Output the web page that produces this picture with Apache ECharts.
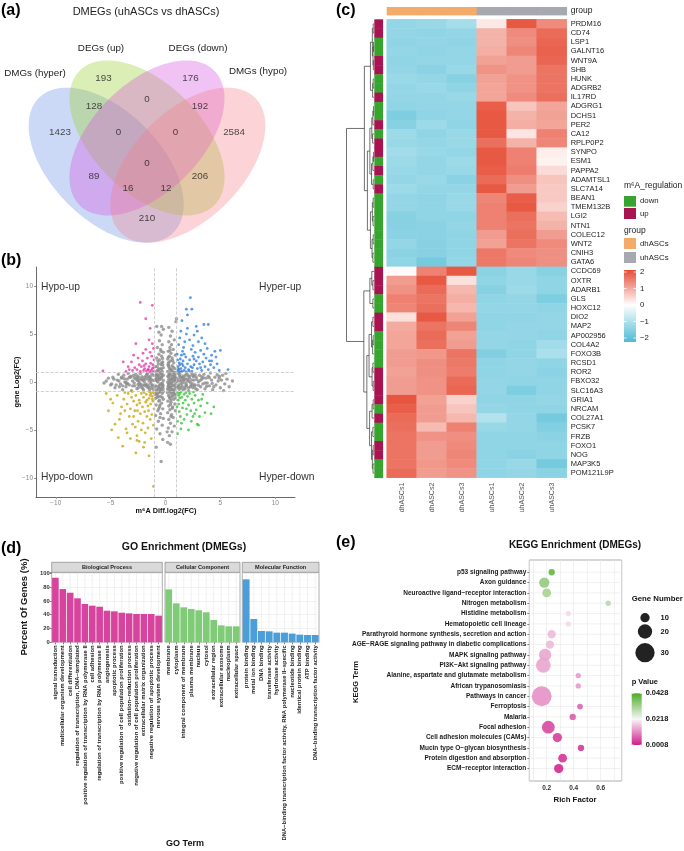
<!DOCTYPE html>
<html><head><meta charset="utf-8">
<script src="https://cdn.jsdelivr.net/npm/echarts@6/dist/echarts.min.js"></script>
<style>html,body{margin:0;padding:0;background:#fff}#c{width:684px;height:851px}</style>
</head><body><div id="c"></div>
<script>
// ================= DATA =================
// (a) Venn
const vennSetLabels = ['DMGs (hyper)', 'DEGs (up)', 'DEGs (down)', 'DMGs (hypo)'];
const vennCounts = [193, 176, 128, 0, 192, 1423, 0, 0, 2584, 0, 89, 206, 16, 12, 210];

// (b) scatter: [m6A diff log2FC, gene log2FC]
const scatterGray = [[0.2,-6.3],[0.35,-5.6],[0.6,-5.2],[0.25,-4.8],[0.8,-4.6],[0.45,-4.3],[0.3,-3.9],[0.7,-3.7],[0.55,-3.4],[0.2,-3.2],[0.9,-3.0],[0.4,-2.9],[0.65,-2.6],[0.3,-2.5],[0.85,-2.3],[0.5,-2.1],[0.22,-2.0],[0.75,-1.8],[0.4,-1.7],[0.6,-1.5],[0.28,-1.4],[0.95,-1.3],[0.5,-1.2],[0.18,-1.1],[0.7,-1.0],[0.35,-0.9],[0.6,-0.8],[0.85,-0.7],[0.25,-0.6],[0.45,-0.5],[0.7,-0.4],[0.3,-0.3],[0.9,-0.2],[0.55,-0.1],[0.2,0.0],[0.4,0.1],[0.75,0.2],[0.3,0.3],[0.6,0.4],[0.95,0.5],[0.22,0.6],[0.5,0.7],[0.8,0.8],[0.35,0.9],[0.65,1.0],[0.2,1.1],[0.45,1.3],[0.85,1.4],[0.3,1.6],[0.6,1.7],[0.25,1.9],[0.75,2.0],[0.45,2.2],[0.2,2.4],[0.6,2.5],[0.35,2.7],[0.9,2.8],[0.5,3.0],[0.25,3.2],[0.7,3.4],[0.4,3.6],[0.55,3.9],[0.3,4.2],[0.8,4.4],[0.45,4.8],[0.6,5.3],[0.95,6.3],[0.3,5.7],
[-0.25,-6.0],[-0.5,-5.4],[-0.8,-4.9],[-0.3,-4.5],[-0.65,-4.1],[-0.2,-3.8],[-0.9,-3.5],[-0.45,-3.3],[-0.7,-3.0],[-0.25,-2.8],[-0.55,-2.6],[-0.85,-2.4],[-0.35,-2.2],[-0.6,-2.0],[-0.2,-1.8],[-0.75,-1.6],[-0.45,-1.5],[-0.95,-1.3],[-0.3,-1.2],[-0.6,-1.1],[-0.2,-1.0],[-0.8,-0.9],[-0.4,-0.8],[-0.65,-0.6],[-0.25,-0.5],[-0.9,-0.4],[-0.5,-0.3],[-0.3,-0.1],[-0.7,0.0],[-0.2,0.15],[-0.55,0.25],[-0.85,0.35],[-0.35,0.45],[-0.6,0.6],[-0.2,0.7],[-0.8,0.8],[-0.45,0.9],[-0.3,1.1],[-0.7,1.2],[-0.5,1.4],[-0.2,1.5],[-0.9,1.6],[-0.4,1.8],[-0.65,1.9],[-0.25,2.1],[-0.55,2.3],[-0.8,2.5],[-0.35,2.7],[-0.6,2.9],[-0.2,3.1],[-0.45,3.4],[-0.75,3.6],[-0.3,3.9],[-0.55,4.3],[-0.4,4.9],[-0.2,5.5],[-0.8,5.8],[-0.6,5.2],[-0.36,5.8],[1.0,6.6],
[-0.4,-8.3],[-0.85,-6.8],[0.45,-6.5],[0.15,-5.2],
[1.1,0.3],[1.2,-0.5],[1.3,0.8],[1.4,-0.2],[1.5,0.5],[1.6,-0.8],[1.7,0.1],[1.8,0.7],[1.9,-0.4],[2.0,0.3],[2.1,-0.9],[2.2,0.6],[2.3,-0.1],[2.4,0.9],[2.5,-0.6],[2.6,0.2],[2.7,-0.3],[2.8,0.5],[2.9,-0.8],[3.0,0.0],[3.1,0.7],[3.2,-0.5],[3.3,0.3],[3.4,-0.2],[3.5,0.8],[3.6,-0.7],[3.7,0.4],[3.8,-0.1],[3.9,0.6],[4.0,-0.4],[4.2,0.2],[4.3,-0.8],[4.5,0.5],[4.6,-0.3],[4.8,0.1],[5.0,-0.6],[5.2,0.7],[5.4,-0.2],[5.6,0.3],[5.8,-0.5],[5.5,0.9],[5.3,-0.9],[4.1,0.95],[2.15,0.05],[1.55,-0.1],[1.35,0.45],[1.75,-0.55],[1.95,0.85],[2.35,-0.35],[2.55,0.55],[1.25,-0.75],[1.65,0.25],[1.85,-0.15],[2.05,0.65],[2.75,-0.7],[3.15,0.15],[1.15,0.9],[1.45,0.15],[4.9,0.4],[6.1,0.1],
[-1.1,0.7],[-1.2,-0.4],[-1.3,0.3],[-1.4,0.6],[-1.5,0.1],[-1.6,-0.6],[-1.7,0.8],[-1.8,-0.2],[-1.9,0.5],[-2.0,-0.8],[-2.1,0.2],[-2.2,-0.5],[-2.3,0.9],[-2.4,-0.1],[-2.5,0.6],[-2.6,-0.7],[-2.7,0.3],[-2.8,-0.4],[-2.9,0.7],[-3.0,0.1],[-3.1,-0.9],[-3.2,0.5],[-3.3,-0.3],[-3.4,0.9],[-3.5,0.3],[-3.6,-0.5],[-3.7,0.0],[-3.8,0.7],[-3.9,-0.8],[-4.0,0.4],[-4.1,-0.2],[-4.3,0.8],[-4.4,0.2],[-4.6,-0.6],[-4.8,0.5],[-5.0,-0.3],[-5.4,0.1],[-2.85,-0.1],[-2.55,0.15],[-2.35,-0.35],[-2.15,0.55],[-1.95,0.05],[-1.75,-0.45],[-1.55,0.35],[-1.35,-0.15],[-1.25,0.85],[-1.45,-0.8],[-1.65,0.9],[-2.05,-0.3],[-2.45,0.4],[-3.15,0.6],[-3.55,-0.2],[-4.2,-0.5],[-5.2,0.4],[-5.6,-0.1],[-4.7,0.3],
[0.3,0.55],[0.5,-0.65],[0.7,0.05],[0.9,-0.45],[0.35,-1.55],[0.6,1.25],[0.8,-1.25],[0.25,1.75],[0.45,-2.35],[0.65,2.25],[0.85,0.65],[0.4,-0.15],[0.55,0.35],[0.75,-0.85],[0.2,-0.75],[0.95,0.15],[0.3,2.05],[0.5,-1.85],[0.7,1.55],[0.9,-1.65],
[-0.35,0.6],[-0.55,-0.7],[-0.75,0.1],[-0.95,-0.5],[-0.3,-1.6],[-0.65,1.3],[-0.85,-1.2],[-0.25,1.8],[-0.5,-2.4],[-0.7,2.2],[-0.9,0.7],[-0.45,-0.2],[-0.6,0.4],[-0.8,-0.8],[-0.22,-0.7],[-0.95,0.2],[-0.35,2.0],[-0.55,-1.9],[-0.75,1.6],[-0.9,-1.7],
[1.3,0.1],[1.6,0.6],[1.9,-0.3],[2.2,0.4],[2.5,-0.2],[1.2,-0.3],[1.5,-0.45],[1.8,0.35],[2.1,-0.6],[2.4,0.2],[2.7,0.75],[3.0,-0.35],[3.3,0.55],[3.6,-0.1],[4.0,0.45],[4.4,-0.5],[4.9,0.6],
[-1.3,0.1],[-1.6,0.55],[-1.9,-0.35],[-2.2,0.35],[-2.5,-0.25],[-1.2,-0.3],[-1.5,-0.5],[-1.8,0.3],[-2.1,-0.65],[-2.4,0.15],[-2.7,0.8],[-3.0,-0.4],[-3.3,0.5],[-3.6,-0.05],[-4.0,0.5],[-4.5,-0.3],
[0.28,-0.15],[0.48,0.22],[0.62,-0.32],[0.78,0.48],[0.33,0.78],[0.57,-0.95],[0.88,0.33],[0.41,-0.58],[0.68,0.62],[0.24,-0.42],[0.52,1.12],[0.74,-1.12],[0.37,1.42],[0.66,-1.42],[0.43,-1.02],[0.83,1.02],[0.27,2.6],[0.62,-2.75],[0.4,3.3],[0.5,-3.6],
[-0.28,-0.25],[-0.48,0.32],[-0.62,-0.42],[-0.78,0.52],[-0.33,0.85],[-0.57,-1.0],[-0.88,0.25],[-0.41,-0.62],[-0.68,0.72],[-0.24,-0.35],[-0.52,1.05],[-0.74,-1.3],[-0.37,1.35],[-0.66,-1.5],[-0.43,-0.95],[-0.83,1.1],[-0.27,2.45],[-0.62,-2.8],[-0.4,3.2],[-0.5,-3.7],
[1.05,0.05],[1.28,0.62],[1.42,-0.62],[1.62,0.42],[1.78,-0.72],[2.02,0.12],[2.28,-0.5],[2.48,0.7],[2.85,0.25],[3.45,0.45],[3.75,-0.45],[4.25,-0.15],[4.7,0.75],[5.1,0.2],[1.12,-0.55],[2.62,-0.45],
[-1.05,0.15],[-1.28,-0.62],[-1.42,0.42],[-1.62,-0.32],[-1.78,0.62],[-2.02,0.25],[-2.28,-0.2],[-2.48,-0.6],[-2.85,0.45],[-3.45,-0.15],[-3.75,0.35],[-4.25,0.1],[-4.9,-0.2],[-1.12,-0.75],[-2.62,0.5],[-3.9,-0.4]];
const scatterHyperUp = [[1.1,1.1],[1.2,1.3],[1.3,1.05],[1.15,1.6],[1.4,1.4],[1.5,1.1],[1.25,2.0],[1.6,1.7],[1.7,1.2],[1.35,2.4],[1.8,1.5],[1.9,1.05],[1.45,2.8],[2.0,1.9],[2.1,1.3],[1.55,3.2],[2.2,2.3],[2.3,1.6],[1.65,3.6],[2.4,1.1],[2.5,2.7],[1.2,3.9],[2.6,1.8],[2.7,3.1],[1.75,4.2],[2.8,2.2],[2.9,1.4],[1.3,4.6],[3.0,2.6],[3.1,1.9],[1.9,5.0],[3.2,3.3],[3.3,1.2],[2.2,4.4],[3.4,2.1],[3.5,2.9],[2.5,3.8],[3.6,1.6],[3.7,2.5],[1.4,5.3],[3.8,3.5],[3.9,1.3],[2.0,5.6],[4.0,2.2],[4.1,1.8],[2.6,4.9],[4.2,2.8],[4.4,1.5],[2.9,5.3],[4.5,3.2],[4.7,1.9],[3.3,4.6],[5.0,3.3],[5.7,1.3],[4.2,2.2],[3.5,6.0],[3.9,6.0],[2.8,5.8],[2.27,8.8],[1.9,7.6],[2.4,7.6],[2.0,7.0],[1.5,6.4],[3.0,4.2],[3.6,4.0],[1.3,1.8],[1.6,2.2],[1.85,2.6],[2.15,1.15],[2.45,1.5],[1.05,2.9],[1.2,1.35],[1.4,1.05],[1.1,2.3],[1.5,1.9],[1.7,2.9],[2.6,2.4],[3.2,1.5],[2.35,3.4],[4.6,2.6],[4.9,1.2]];
const scatterHypoUp = [[-1.1,1.1],[-1.2,1.4],[-1.3,1.2],[-1.15,1.8],[-1.45,1.05],[-1.5,1.6],[-1.6,1.3],[-1.05,2.3],[-1.75,1.15],[-1.8,1.9],[-1.9,1.4],[-1.25,2.7],[-2.0,1.2],[-2.1,2.2],[-2.2,1.6],[-1.4,3.1],[-2.3,1.1],[-2.4,1.8],[-2.5,2.5],[-1.1,3.5],[-2.6,1.3],[-2.8,1.5],[-3.0,1.2],[-3.1,2.1],[-3.4,1.6],[-3.85,2.1],[-2.7,4.0],[-1.8,3.4],[-1.5,4.4],[-1.4,5.6],[-1.8,6.6],[-2.3,8.3],[-1.2,8.0],[-5.7,1.15],[-3.6,1.1],[-2.9,2.8],[-1.65,2.5],[-1.35,1.95],[-2.05,3.0],[-1.2,4.0],[-3.3,1.3],[-1.55,1.3],[-1.95,1.7],[-1.1,1.5]];
const scatterHypoDown = [[-1.1,-1.1],[-1.2,-1.5],[-1.3,-1.2],[-1.15,-2.0],[-1.45,-1.05],[-1.5,-1.7],[-1.6,-2.5],[-1.05,-2.8],[-1.75,-1.3],[-1.8,-2.1],[-1.9,-3.1],[-1.25,-3.4],[-2.0,-1.6],[-2.1,-2.6],[-2.2,-1.2],[-1.4,-3.9],[-2.3,-3.3],[-2.4,-1.9],[-2.5,-4.1],[-1.1,-4.5],[-2.6,-2.4],[-2.7,-1.4],[-2.8,-3.0],[-1.6,-4.8],[-2.9,-2.0],[-3.0,-4.4],[-1.85,-5.3],[-3.1,-1.6],[-3.2,-2.8],[-2.2,-5.0],[-3.3,-3.6],[-3.4,-1.2],[-1.3,-5.9],[-3.5,-2.3],[-3.6,-4.9],[-2.6,-5.6],[-3.7,-3.0],[-3.8,-1.8],[-1.9,-6.3],[-3.9,-6.7],[-2.7,-7.4],[-2.0,-6.8],[-4.0,-2.6],[-4.2,-3.9],[-4.4,-1.4],[-4.6,-4.4],[-4.8,-2.2],[-5.2,-3.0],[-5.4,-1.2],[-4.9,-5.0],[-3.2,-5.9],[-1.1,-10.9],[-1.5,-7.7],[-2.4,-6.2],[-3.5,-5.3],[-1.7,-3.6],[-2.35,-2.2],[-1.35,-2.3],[-1.95,-1.1],[-2.55,-3.0],[-1.55,-3.0],[-2.05,-4.3],[-2.9,-3.6],[-1.2,-1.8],[-3.05,-1.0],[-4.3,-5.8],[-5.0,-1.8],[-3.7,-1.1],[-2.75,-4.7],[-1.4,-1.4],[-1.7,-1.9],[-4.1,-3.3],[-2.6,-6.1]];
const scatterHyperDown = [[1.1,-1.1],[1.2,-1.4],[1.3,-1.2],[1.15,-1.9],[1.4,-1.05],[1.5,-1.6],[1.6,-2.2],[1.05,-2.6],[1.7,-1.3],[1.8,-1.9],[1.9,-2.8],[1.25,-3.1],[2.0,-1.5],[2.1,-2.4],[2.2,-1.2],[1.35,-3.6],[2.3,-3.0],[2.4,-1.8],[2.5,-3.6],[1.1,-4.1],[2.6,-2.2],[2.7,-1.4],[2.8,-2.9],[1.45,-4.3],[2.9,-4.4],[3.0,-1.9],[1.1,-5.4],[3.2,-2.5],[2.1,-5.0],[3.4,-1.3],[3.6,-3.2],[4.15,-3.3],[4.4,-2.6],[3.0,-4.5],[1.7,-3.9],[2.35,-4.1],[1.55,-2.7],[1.95,-3.4],[1.3,-1.65],[2.55,-1.05],[3.1,-3.6],[1.85,-1.1],[1.2,-2.3],[3.3,-1.8],[3.8,-2.2],[2.65,-3.3],[1.4,-4.9]];

// (c) heatmap
const hmSamples = ['dhASCs1','dhASCs2','dhASCs3','uhASCs1','uhASCs2','uhASCs3'];
const hmSampleGroup = ['dhASCs','dhASCs','dhASCs','uhASCs','uhASCs','uhASCs'];
const hmGenes = ['PRDM16','CD74','LSP1','GALNT16','WNT9A','SHB','HUNK','ADGRB2','IL17RD','ADGRG1','DCHS1','PER2','CA12','RPLP0P2','SYNPO','ESM1','PAPPA2','ADAMTSL1','SLC7A14','BEAN1','TMEM132B','LGI2','NTN1','COLEC12','WNT2','CNIH3','GATA6','CCDC69','OXTR','ADARB1','GLS','HOXC12','DIO2','MAP2','AP002956','COL4A2','FOXO3B','RCSD1','ROR2','FBXO32','SLC16A3','GRIA1','NRCAM','COL27A1','PCSK7','FRZB','FOXO1','NOG','MAP3K5','POM121L9P'];
const hmRegulation = ['up','up','down','down','up','up','down','down','up','down','down','up','down','up','up','down','up','down','up','down','down','down','down','down','down','down','down','up','up','up','down','down','up','up','down','down','down','down','up','up','up','up','down','up','down','down','up','up','down','down'];
const hmValues = [
[-1.2,-1.15,-1.0, 0.25,1.85,1.3],[-1.2,-1.25,-1.2, 0.85,1.3,1.65],[-1.25,-1.2,-1.25, 0.85,1.25,1.7],[-1.2,-1.25,-1.2, 0.9,1.35,1.75],
[-1.25,-1.2,-1.2, 1.05,1.1,1.7],[-1.2,-1.3,-1.15, 1.2,1.1,1.55],[-1.15,-1.2,-1.35, 1.05,1.2,1.55],[-1.2,-1.15,-1.25, 1.0,1.2,1.55],
[-1.2,-1.2,-1.15, 1.0,1.3,1.6],[-1.25,-1.2,-1.2, 1.8,0.65,1.0],[-1.45,-1.25,-1.2, 1.85,0.85,1.05],[-1.35,-1.1,-1.25, 1.85,0.9,1.0],
[-1.1,-1.25,-1.15, 1.85,0.3,1.4],[-1.15,-1.2,-1.15, 1.6,0.85,1.35],[-1.05,-1.15,-1.2, 1.85,1.4,0.2],[-1.1,-1.2,-1.1, 1.85,1.4,0.15],
[-1.15,-1.2,-1.15, 1.8,1.45,0.4],[-1.2,-1.15,-1.3, 1.65,1.25,0.65],[-1.1,-1.2,-1.2, 1.85,1.1,0.6],[-1.2,-1.25,-1.15, 1.35,1.8,0.6],
[-1.2,-1.25,-1.15, 1.4,1.85,0.5],[-1.35,-1.25,-1.25, 1.4,1.6,0.75],[-1.35,-1.3,-1.2, 1.4,1.55,0.85],[-1.3,-1.3,-1.25, 1.1,1.6,1.1],
[-1.2,-1.35,-1.25, 1.05,1.55,1.3],[-1.3,-1.35,-1.25, 1.5,1.3,1.25],[-1.25,-1.55,-1.2, 1.5,1.35,1.25],
[0.05,1.4,1.85, -1.3,-1.15,-1.35],[1.1,1.85,0.35, -1.25,-1.15,-1.25],[1.2,1.65,0.8, -1.35,-1.1,-1.25],[1.4,1.55,0.9, -1.25,-1.2,-1.45],
[1.35,1.6,0.8, -1.2,-1.2,-1.25],[0.35,1.85,1.05, -1.25,-1.25,-1.2],[0.95,1.55,1.35, -1.25,-1.2,-1.2],[1.0,1.65,1.05, -1.2,-1.2,-1.25],
[1.0,1.6,1.1, -1.2,-1.25,-1.05],[1.1,1.15,1.55, -1.4,-1.25,-0.95],[1.1,1.25,1.5, -1.25,-1.2,-1.25],[1.05,1.25,1.45, -1.25,-1.2,-1.3],
[1.1,1.2,1.65, -1.2,-1.25,-1.25],[1.1,1.2,1.7, -1.2,-1.45,-1.25],[1.9,1.05,0.5, -1.25,-1.25,-1.2],[1.8,1.1,0.65, -1.2,-1.25,-1.25],
[1.65,1.1,0.8, -0.85,-1.2,-1.55],[1.6,0.75,1.4, -1.15,-1.2,-1.4],[1.55,1.2,1.25, -1.25,-1.25,-1.3],[1.55,1.1,1.3, -1.25,-1.25,-1.25],
[1.55,1.1,1.35, -1.25,-1.3,-1.25],[1.55,1.15,1.3, -1.25,-1.15,-1.55],[1.65,1.1,1.2, -1.25,-1.2,-1.3]];
// row dendrogram: [height, left, right], leaves = row index
const hmDendro = [10,
  [3.5,
    [1.3,[0.6,[0.3,0,1],[0.35,[0.2,2,3],[0.25,4,5]]],[0.5,[0.3,6,7],8]],
    [2.4,
      [1.5,[0.8,[0.4,[0.2,9,10],11],[0.5,12,13]],[0.9,[0.4,[0.2,14,15],16],[0.3,17,18]]],
      [1.3,[0.6,[0.3,19,20],[0.35,21,22]],[0.7,[0.3,23,24],[0.4,25,26]]]]],
  [3.7,
    [1.5,[0.8,27,[0.4,28,29]],[0.4,30,31]],
    [2.6,
      [1.8,[0.9,[0.4,32,33],[0.5,[0.3,34,35],36]],[0.7,[0.4,37,38],[0.3,39,40]]],
      [1.6,[0.7,[0.3,41,42],43],[0.9,[0.4,44,45],[0.6,[0.3,46,47],[0.35,48,49]]]]]]];
const hmLegendTicks = [2, 1, 0, -1, -2];

// (d) GO enrichment
const goBPTerms = ['signal transduction','multicellular organism development','cell differentiation','regulation of transcription, DNA\u2212templated','positive regulation of transcription by RNA polymerase II','cell adhesion','regulation of transcription by RNA polymerase II','angiogenesis','apoptotic process','positive regulation of cell population proliferation','oxidation\u2212reduction process','negative regulation of cell population proliferation','extracellular matrix organization','negative regulation of apoptotic process','nervous system development'];
const goBPValues = [93.6,77.2,71.9,63.8,55.5,53.1,51.6,45.8,44.9,42.9,42.0,41.0,41.0,41.0,38.6];
const goCCTerms = ['membrane','cytoplasm','integral component of membrane','plasma membrane','nucleus','cytosol','extracellular region','extracellular exosome','nucleoplasm','extracellular space'];
const goCCValues = [76.8,56.5,50.7,48.3,46.4,43.5,32.4,24.6,23.2,23.2];
const goMFTerms = ['protein binding','metal ion binding','DNA binding','transferase activity','hydrolase activity','DNA\u2212binding transcription factor activity, RNA polymerase II\u2212specific','nucleotide binding','identical protein binding','ATP binding','DNA\u2212binding transcription factor activity'];
const goMFValues = [91.3,33.8,16.4,15.9,14.0,14.0,12.6,11.1,10.6,10.6];
const goYTicks = [0,20,40,60,80,100];

// (e) KEGG enrichment
const keggTerms = ['p53 signaling pathway','Axon guidance','Neuroactive ligand\u2212receptor interaction','Nitrogen metabolism','Histidine metabolism','Hematopoietic cell lineage','Parathyroid hormone synthesis, secretion and action','AGE\u2212RAGE signaling pathway in diabetic complications','MAPK signaling pathway','PI3K\u2212Akt signaling pathway','Alanine, aspartate and glutamate metabolism','African trypanosomiasis','Pathways in cancer','Ferroptosis','Malaria','Focal adhesion','Cell adhesion molecules (CAMs)','Mucin type O\u2212glycan biosynthesis','Protein digestion and absorption','ECM\u2212receptor interaction'];
const keggRich = [0.237,0.182,0.2,0.656,0.36,0.36,0.237,0.224,0.188,0.175,0.434,0.434,0.163,0.447,0.393,0.212,0.279,0.454,0.318,0.289];
const keggGenes = [4,12,9,2,2,2,8,8,16,21,2,2,31,3,4,17,10,4,9,10];
const keggP = [0.040,0.034,0.032,0.030,0.019,0.019,0.016,0.016,0.014,0.014,0.013,0.013,0.012,0.008,0.007,0.005,0.004,0.0035,0.003,0.002];
const keggSizeLegend = [10, 20, 30];
const keggPLegend = [0.0428, 0.0218, 0.0008];

// ================= LAYOUT / STYLE =================
const FONT = '"Liberation Sans", Arial, Helvetica, sans-serif';
const vennLayout = { a: 0.35, b: 0.2, shapes: [
  {cx:0.35, cy:0.47, rot:-45, color:'rgba(110,150,230,0.36)'},
  {cx:0.50, cy:0.57, rot:-45, color:'rgba(160,210,60,0.38)'},
  {cx:0.50, cy:0.57, rot:45,  color:'rgba(215,80,225,0.34)'},
  {cx:0.65, cy:0.47, rot:45,  color:'rgba(245,120,130,0.32)'}]};
const vennAnchors = [[0.34,0.79],[0.66,0.79],[0.305,0.688],[0.5,0.713],[0.695,0.688],[0.18,0.592],[0.395,0.592],[0.605,0.592],[0.82,0.592],[0.5,0.478],[0.305,0.43],[0.695,0.43],[0.43,0.386],[0.57,0.386],[0.5,0.276]];
const vennLabelPos = [[35,73],[101,48],[198,48],[258,71]];
const regColor = {up:'#A8144F', down:'#37A42F'};
const groupColor = {dhASCs:'#F4AA69', uhASCs:'#A7A9B0'};
const keggSize = n => 4.3 + 0.5 * n;

const grids = [], xAxes = [], yAxes = [], series = [], graphics = [];
function addGrid(g, xa, ya) {
  grids.push(g); const gi = grids.length - 1;
  xa.gridIndex = gi; ya.gridIndex = gi; xAxes.push(xa); yAxes.push(ya);
  return {xAxisIndex: xAxes.length - 1, yAxisIndex: yAxes.length - 1};
}
function T(x, y, s, size, o) {
  o = o || {};
  graphics.push({type:'text', x, y, rotation: o.rotation || 0, z: 50,
    style:{text:s, fill:o.color || '#222', fontSize:size, fontFamily:FONT, fontWeight:o.weight || 'normal',
      align:o.align || 'left', verticalAlign:'middle', textAlign:o.align || 'left', textVerticalAlign:'middle'}});
}
function R(x, y, w, h, fill, stroke, lw) {
  graphics.push({type:'rect', z: 40, shape:{x, y, width:w, height:h}, style:{fill, stroke: stroke || null, lineWidth: lw || 0}});
}
const hidden = {show:false};

// ---------- panel labels ----------
T(1, 11, '(a)', 16, {weight:'bold', color:'#000'});
T(1, 261, '(b)', 16, {weight:'bold', color:'#000'});
T(336, 11, '(c)', 16, {weight:'bold', color:'#000'});
T(1, 549, '(d)', 16, {weight:'bold', color:'#000'});
T(336, 543, '(e)', 16, {weight:'bold', color:'#000'});

// ---------- (a) Venn ----------
T(146, 12, 'DMEGs (uhASCs vs dhASCs)', 11, {align:'center', color:'#222'});
vennSetLabels.forEach((s, i) => T(vennLabelPos[i][0], vennLabelPos[i][1], s, 9.8, {align:'center', color:'#222'}));
const vAx = addGrid({left:11, top:21, width:272, height:272},
  {type:'value', min:0, max:1, show:false}, {type:'value', min:0, max:1, show:false});
series.push({type:'custom', ...vAx, clip:false, silent:true, z:1,
  data: vennLayout.shapes.map(s => [s.cx, s.cy]),
  renderItem: (params, api) => {
    const s = vennLayout.shapes[params.dataIndex];
    const r = s.rot * Math.PI / 180, ca = Math.cos(r), sa = Math.sin(r), pts = [];
    for (let k = 0; k < 120; k++) {
      const t = k / 120 * 2 * Math.PI, ex = vennLayout.a * Math.cos(t), ey = vennLayout.b * Math.sin(t);
      pts.push(api.coord([api.value(0) + ex * ca - ey * sa, api.value(1) + ex * sa + ey * ca]));
    }
    return {type:'polygon', shape:{points:pts}, style:{fill:s.color, stroke:null}};
  }});
series.push({type:'scatter', ...vAx, z:5, symbolSize:1, itemStyle:{color:'rgba(0,0,0,0)'}, silent:true,
  data: vennCounts.map((c, i) => [vennAnchors[i][0], vennAnchors[i][1], c]),
  label:{show:true, position:'inside', formatter:p => p.value[2], fontSize:9.8, color:'#222', fontFamily:FONT}});

// ---------- (b) scatter ----------
const minusFmt = v => (v < 0 ? '\u2212' + Math.abs(v) : '' + v);
const bAx = addGrid({left:36, top:267, width:259, height:230},
  {type:'value', min:-11.8, max:11.8, splitNumber:5, splitLine:hidden,
   axisLine:{show:true, onZero:false, lineStyle:{color:'#444', width:0.8}}, axisTick:{show:true, length:2, lineStyle:{color:'#999'}},
   axisLabel:{fontSize:6.5, color:'#888', margin:3, fontFamily:FONT, showMinLabel:false, showMaxLabel:false, formatter:v => (Math.abs(v % 5) < 1e-9 ? minusFmt(v) : '')}},
  {type:'value', min:-12, max:12, splitNumber:5, splitLine:hidden,
   axisLine:{show:true, onZero:false, lineStyle:{color:'#444', width:0.8}}, axisTick:{show:true, length:2, lineStyle:{color:'#999'}},
   axisLabel:{fontSize:6.5, color:'#888', margin:3, fontFamily:FONT, showMinLabel:false, showMaxLabel:false, formatter:v => (Math.abs(v % 5) < 1e-9 ? minusFmt(v) : '')}});
series.push({type:'scatter', ...bAx, data:scatterGray, symbolSize:3.4, itemStyle:{color:'#8c8c8c'}, silent:true, z:2,
  markLine:{silent:true, symbol:['none','none'], label:{show:false}, animation:false,
    lineStyle:{type:'dashed', color:'#c4c4c4', width:0.8},
    data:[{xAxis:-1},{xAxis:1},{yAxis:-1},{yAxis:1}]}});
[[scatterHyperUp,'#2F7FE0'],[scatterHypoUp,'#E23FAE'],[scatterHypoDown,'#C9A80C'],[scatterHyperDown,'#3DC43D']].forEach(([d, c]) =>
  series.push({type:'scatter', ...bAx, data:d, symbolSize:2.8, itemStyle:{color:c}, silent:true, z:3}));
T(41, 287, 'Hypo-up', 10.3, {color:'#333'});
T(259, 287, 'Hyper-up', 10.3, {color:'#333'});
T(41, 477, 'Hypo-down', 10.3, {color:'#333'});
T(259, 477, 'Hyper-down', 10.3, {color:'#333'});
T(166, 511, 'm\u2076A Diff.log2(FC)', 7.3, {align:'center', weight:'bold', color:'#111'});
T(17, 382, 'gene Log2(FC)', 7.3, {align:'center', weight:'bold', color:'#111', rotation:Math.PI/2});

// ---------- (c) heatmap ----------
const HM_TOP = 19.3, HM_H = 458.4;
const hAx = addGrid({left:386.7, top:HM_TOP, width:180, height:HM_H},
  {type:'category', data:hmSamples, axisLine:hidden, axisTick:hidden, splitLine:hidden,
   axisLabel:{rotate:90, interval:0, fontSize:7, color:'#555', margin:5, fontFamily:FONT}},
  {type:'category', data:hmGenes, inverse:true, position:'right', axisLine:hidden, axisTick:hidden, splitLine:hidden,
   axisLabel:{interval:0, fontSize:7.5, color:'#222', margin:4, fontFamily:FONT}});
const hmData = [];
hmValues.forEach((row, r) => row.forEach((v, c) => hmData.push([c, r, v])));
series.push({type:'heatmap', ...hAx, data:hmData, silent:true, itemStyle:{borderWidth:0}});
const hmSeriesIndex = series.length - 1;
const cellRender = colorOf => (params, api) => {
  const c = api.coord([api.value(0), api.value(1)]), s = api.size([1, 1]);
  return {type:'rect', shape:{x:c[0] - s[0] / 2, y:c[1] - s[1] / 2, width:s[0] + 0.4, height:s[1] + 0.4}, style:{fill:colorOf(params.dataIndex)}};
};
const gAx = addGrid({left:386.7, top:7, width:180, height:8},
  {type:'category', data:hmSamples, show:false}, {type:'category', data:['group'], show:false});
series.push({type:'custom', ...gAx, silent:true, data:hmSamples.map((s, i) => [i, 0]),
  renderItem:cellRender(i => groupColor[hmSampleGroup[i]])});
const rAx = addGrid({left:374.3, top:HM_TOP, width:8.4, height:HM_H},
  {type:'category', data:['m6A_regulation'], show:false}, {type:'category', data:hmGenes, inverse:true, show:false});
series.push({type:'custom', ...rAx, silent:true, data:hmGenes.map((g, i) => [0, i]),
  renderItem:cellRender(i => regColor[hmRegulation[i]])});
// dendrogram
const dendroSegs = [];
(function walk(n) {
  if (typeof n === 'number') return {y:n, h:0};
  const l = walk(n[1]), r = walk(n[2]);
  dendroSegs.push([l.h, l.y, n[0], r.y, r.h]);
  return {y:(l.y + r.y) / 2, h:n[0]};
})(hmDendro);
const dAx = addGrid({left:346.5, top:HM_TOP, width:27.5, height:HM_H},
  {type:'value', min:0, max:10, inverse:true, show:false}, {type:'value', min:-0.5, max:hmGenes.length - 0.5, inverse:true, show:false});
series.push({type:'custom', ...dAx, silent:true, clip:false, data:dendroSegs, dimensions:['h1','y1','h','y2','h2'], encode:{x:[0,2,4], y:[1,3]},
  renderItem:(params, api) => {
    const p = [api.coord([api.value(0), api.value(1)]), api.coord([api.value(2), api.value(1)]),
               api.coord([api.value(2), api.value(3)]), api.coord([api.value(4), api.value(3)])];
    return {type:'polyline', shape:{points:p}, style:{stroke:'#333', lineWidth:0.7, fill:null}};
  }});
T(570.7, 11, 'group', 8.5, {color:'#222'});
T(624, 186, 'm\u2076A_regulation', 8.5, {color:'#222'});
R(624, 196, 12, 10.7, regColor.down); T(640, 201.3, 'down', 7.8);
R(624, 208, 12, 11, regColor.up); T(640, 213.5, 'up', 7.8);
T(624, 231, 'group', 8.5, {color:'#222'});
R(624, 238, 12, 11, groupColor.dhASCs); T(640, 243.5, 'dhASCs', 7.8);
R(624, 252, 12, 11, groupColor.uhASCs); T(640, 257.5, 'uhASCs', 7.8);
{
  const top = 270, bot = 342, v2y = v => 305 - v * 16.5;
  graphics.push({type:'rect', z:40, shape:{x:624, y:top, width:12, height:bot - top},
    style:{fill:new echarts.graphic.LinearGradient(0, 0, 0, 1, [
      {offset:0, color:'#E64B35'}, {offset:(305 - top) / (bot - top), color:'#FFFFFF'}, {offset:1, color:'#4DBBD5'}])}});
  hmLegendTicks.forEach(v => {
    const y = v2y(v);
    graphics.push({type:'line', z:41, shape:{x1:624, y1:y, x2:626.5, y2:y}, style:{stroke:'#fff', lineWidth:0.8}});
    graphics.push({type:'line', z:41, shape:{x1:633.5, y1:y, x2:636, y2:y}, style:{stroke:'#fff', lineWidth:0.8}});
    T(640, y, v < 0 ? '\u2212' + Math.abs(v) : '' + v, 7.8);
  });
}

// ---------- (d) GO ----------
T(184, 547, 'GO Enrichment (DMEGs)', 10.5, {align:'center', weight:'bold', color:'#111'});
T(24, 607, 'Percent Of Genes (%)', 9.5, {align:'center', weight:'bold', color:'#111', rotation:Math.PI/2});
T(185, 844, 'GO Term', 9, {align:'center', weight:'bold', color:'#111'});
const goPanels = [
  {title:'Biological Process', terms:goBPTerms, vals:goBPValues, color:'#D6449D', left:51.7, width:110.6},
  {title:'Cellular Component', terms:goCCTerms, vals:goCCValues, color:'#7FCB78', left:165, width:75},
  {title:'Molecular Function', terms:goMFTerms, vals:goMFValues, color:'#4C9ED9', left:242.3, width:76.7}];
const GO_TOP = 572.3, GO_H = 70, GO_MAX = 101.5;
goPanels.forEach((p, k) => {
  R(p.left, 562.3, p.width, 10, '#D9D9D9', '#8a8a8a', 0.7);
  T(p.left + p.width / 2, 567.5, p.title, 5.6, {align:'center', weight:'bold', color:'#222'});
  const ax = addGrid({left:p.left, top:GO_TOP, width:p.width, height:GO_H, show:true, borderColor:'#8a8a8a', borderWidth:0.7, backgroundColor:'#fff'},
    {type:'category', data:p.terms, axisLine:hidden, splitLine:hidden,
     axisTick:{show:true, alignWithLabel:true, length:2, lineStyle:{color:'#333', width:0.6}},
     axisLabel:{rotate:90, interval:0, fontSize:5.9, fontWeight:'bold', color:'#1a1a1a', margin:3, fontFamily:FONT}},
    {type:'value', min:0, max:GO_MAX, interval:20, axisLine:hidden,
     axisTick:{show:k === 0, length:2, lineStyle:{color:'#333', width:0.6}},
     axisLabel:{show:k === 0, fontSize:5.8, fontWeight:'bold', color:'#333', margin:2, fontFamily:FONT,
       formatter:v => (goYTicks.indexOf(v) >= 0 ? v : '')},
     splitLine:{lineStyle:{color:'#e8e8e8', width:0.6}},
     minorTick:{show:false, splitNumber:2}, minorSplitLine:{show:true, lineStyle:{color:'#f3f3f3', width:0.4}}});
  series.push({type:'custom', ...ax, silent:true, z:1, data:p.terms.map((t, i) => [i, 0]),
    renderItem:(params, api) => {
      const a = api.coord([api.value(0), 0]), b = api.coord([api.value(0), GO_MAX]);
      return {type:'line', shape:{x1:a[0], y1:a[1], x2:b[0], y2:b[1]}, style:{stroke:'#e8e8e8', lineWidth:0.6}};
    }});
  series.push({type:'bar', ...ax, data:p.vals, barCategoryGap:'10%', silent:true, z:3, itemStyle:{color:p.color}});
});

// ---------- (e) KEGG ----------
T(575, 545, 'KEGG Enrichment (DMEGs)', 10, {align:'center', weight:'bold', color:'#111'});
T(356, 682, 'KEGG Term', 7.5, {align:'center', weight:'bold', color:'#111', rotation:Math.PI/2});
T(575, 800, 'Rich Factor', 7.8, {align:'center', weight:'bold', color:'#111'});
const KX_MIN = 0.071, KX_MAX = 0.756;
addGrid({left:529.3, top:560, width:92.4, height:221, show:true, borderColor:'#8a8a8a', borderWidth:0.7, backgroundColor:'#fff'},
  {type:'value', min:KX_MIN, max:KX_MAX, splitNumber:7, axisLine:hidden, axisTick:hidden,
   splitLine:{lineStyle:{color:'#e8e8e8', width:0.6}},
   axisLabel:{fontSize:6.5, fontWeight:'bold', color:'#333', margin:4, fontFamily:FONT, showMinLabel:false, showMaxLabel:false,
     formatter:v => ([0.2,0.4,0.6].some(t => Math.abs(v - t) < 1e-6) ? v.toFixed(1) : '')}},
  {type:'value', min:0, max:1, show:false});
const kAx = addGrid({left:529.3, top:567.1, width:92.4, height:206.6},
  {type:'value', min:KX_MIN, max:KX_MAX, show:false},
  {type:'category', data:keggTerms, inverse:true, axisLine:hidden, splitLine:hidden,
   axisTick:{show:true, alignWithLabel:true, length:2, lineStyle:{color:'#333', width:0.6}},
   axisLabel:{interval:0, fontSize:6.5, fontWeight:'bold', color:'#1a1a1a', margin:3, fontFamily:FONT}});
series.push({type:'custom', ...kAx, silent:true, z:1, data:keggTerms.map((t, i) => [KX_MIN, i, KX_MAX]),
  dimensions:['x1','y','x2'], encode:{x:[0,2], y:1},
  renderItem:(params, api) => {
    const a = api.coord([api.value(0), api.value(1)]), b = api.coord([api.value(2), api.value(1)]);
    return {type:'line', shape:{x1:a[0], y1:a[1], x2:b[0], y2:b[1]}, style:{stroke:'#e8e8e8', lineWidth:0.6}};
  }});
series.push({type:'scatter', ...kAx, silent:true, z:4,
  data:keggTerms.map((t, i) => [keggRich[i], i, keggGenes[i], keggP[i]]),
  symbolSize:v => keggSize(v[2]), itemStyle:{opacity:0.9}});
const keggSeriesIndex = series.length - 1;
T(631.7, 599.3, 'Gene Number', 7.8, {weight:'bold', color:'#111'});
[617.7, 631.5, 652.7].forEach((y, i) => {
  graphics.push({type:'circle', z:40, shape:{cx:645, cy:y, r:keggSize(keggSizeLegend[i]) / 2}, style:{fill:'#222'}});
  T(660.5, y, '' + keggSizeLegend[i], 7.5, {weight:'bold', color:'#111'});
});
T(631.7, 681.7, 'p Value', 7.5, {weight:'bold', color:'#111'});
graphics.push({type:'rect', z:40, shape:{x:631.7, y:693.3, width:10, height:51.7},
  style:{fill:new echarts.graphic.LinearGradient(0, 0, 0, 1, [
    {offset:0, color:'#4DAC26'}, {offset:0.5, color:'#F7F7F7'}, {offset:1, color:'#D01C8B'}])}});
[693.3, 719.15, 745].forEach((y, i) => {
  graphics.push({type:'line', z:41, shape:{x1:631.7, y1:y, x2:633.7, y2:y}, style:{stroke:'#fff', lineWidth:0.8}});
  graphics.push({type:'line', z:41, shape:{x1:639.7, y1:y, x2:641.7, y2:y}, style:{stroke:'#fff', lineWidth:0.8}});
  T(645.7, y, keggPLegend[i].toFixed(4), 7.4, {weight:'bold', color:'#111'});
});

// ================= CHART =================
const chart = echarts.init(document.getElementById('c'), null, {renderer:'canvas'});
chart.setOption({
  backgroundColor:'#fff', animation:false,
  textStyle:{fontFamily:FONT},
  grid:grids, xAxis:xAxes, yAxis:yAxes, series,
  visualMap:[
    {type:'continuous', show:false, seriesIndex:hmSeriesIndex, dimension:2, min:-2, max:2,
     inRange:{color:['#4DBBD5','#FFFFFF','#E64B35']}},
    {type:'continuous', show:false, seriesIndex:keggSeriesIndex, dimension:3, min:0.0008, max:0.0428,
     inRange:{color:['#D01C8B','#F7F7F7','#4DAC26']}}],
  graphic:{elements:graphics}
});
</script>
</body></html>
